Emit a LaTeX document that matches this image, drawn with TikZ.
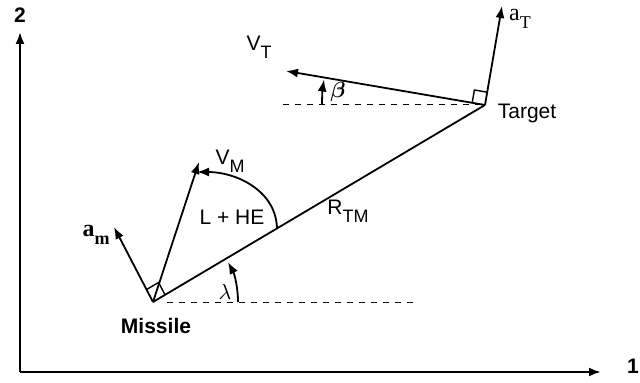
\documentclass[tikz,border=0pt]{standalone}
\usepackage{amsmath}
\usepackage{fontspec}
\setmainfont{Liberation Sans}
\newfontfamily\serif{Liberation Serif}
\usetikzlibrary{positioning,arrows.meta,calc}
\newcommand{\lsub}[1]{\raisebox{-0.7ex}{\small #1}}

\begin{document}
\begin{tikzpicture}[x=0.5pt, y=0.5pt, font=\fontsize{10.5}{12}\selectfont, line width=0.9pt,
  vec/.style={-{Latex[length=6pt,width=4.5pt]}},
  axis/.style={line width=1.1pt, -{Latex[length=6pt,width=4.5pt]}},
  ref/.style={line width=0.5pt, dash pattern=on 3pt off 3pt}]
  \useasboundingbox (0,0) rectangle (640,383);
  % axes
  \coordinate (O) at (20,11);
  \coordinate (ytip) at (20,351);
  \coordinate (xtip) at (601,11);
  \draw[axis] (O) -- (ytip);
  \draw[axis] (O) -- (xtip);
  \node (ylab) at (20,368) {\textbf{2}};
  \node (xlab) at (633,17) {\textbf{1}};
  % missile and target
  \coordinate (M) at (153,81);
  \coordinate (T) at (485,278);
  \coordinate (vm) at (199,221);
  \coordinate (am) at (114,156);
  \coordinate (vt) at (286,312);
  \coordinate (at) at (502,377);
  \draw (M) -- (T);
  \draw[vec] (M) -- (vm);
  \draw[vec] (M) -- (am);
  \draw[vec] (T) -- (vt);
  \draw[vec] (T) -- (at);
  % horizontal references
  \draw[ref] (M) ++(14,-1) -- (415,80);
  \draw[ref] (283,278) -- (T);
  % right angles
  \coordinate (m1) at ($(M)!7pt!(am)$);
  \coordinate (m3) at ($(M)!7pt!(T)$);
  \draw[line width=0.7pt] (m1) -- ($(m1)+(m3)-(M)$) -- (m3);
  \coordinate (t1) at ($(T)!6.5pt!(vt)$);
  \coordinate (t3) at ($(T)!6.5pt!(at)$);
  \draw[line width=0.7pt] (t1) -- ($(t1)+(t3)-(T)$) -- (t3);
  % angles
  \coordinate (los) at (277,155);
  \coordinate (arcend) at (197,211);
  \draw[vec] (los) to[out=92, in=0] (arcend);
  \draw[vec] (M) ++(85,0) arc[start angle=0, end angle=28, radius=85];
  \draw[vec] (T) ++(-163,0) arc[start angle=180, end angle=171, radius=163];
  % labels
  \node (lvm) at (230,222) {V\lsub{M}};
  \node (lvt) at (259,336) {V\lsub{T}};
  \node (lam) at (96,148) {\serif\bfseries\large a\lsub{m}};
  \node (lat) at (520,364) {\serif\large a\lsub{T}};
  \node (lhe) at (232,166) {L + HE};
  \node (lrtm) at (348,172) {R\lsub{TM}};
  \node (llam) at (225,91) {$\lambda$};
  \node (lbeta) at (338,291) {$\boldsymbol{\beta}$};
  \node (lmis) at (156,57) {\bfseries Missile};
  \node (ltar) at (527,270) {Target};
\end{tikzpicture}
\end{document}
